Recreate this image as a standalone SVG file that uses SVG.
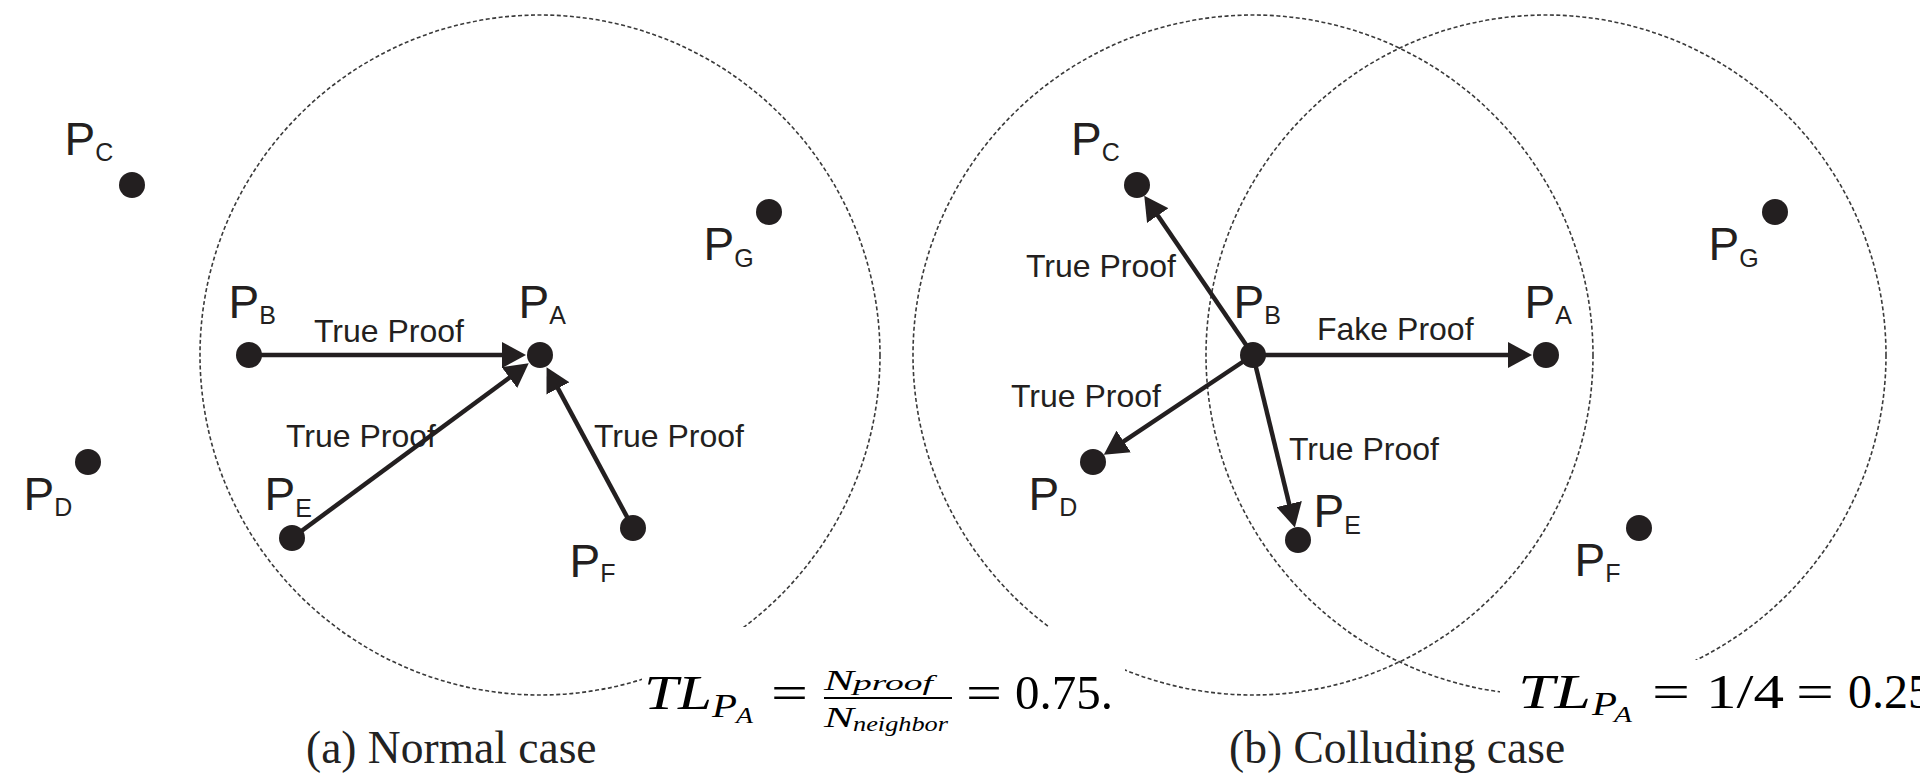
<svg xmlns="http://www.w3.org/2000/svg" width="1920" height="774" viewBox="0 0 1920 774">
<style>
.bg{fill:#fff}
.dot{fill:#231f20}
.lbl{font-family:"Liberation Sans",Arial,sans-serif;font-size:46px;fill:#231f20}
.sub{font-size:25px}
.elbl{font-family:"Liberation Sans",Arial,sans-serif;font-size:32px;fill:#231f20}
.edge{stroke:#231f20;stroke-width:4.5;fill:none;marker-end:url(#ah)}
.range{fill:none;stroke:#3a3a3a;stroke-width:1.6;stroke-dasharray:4 2.5}
.math{font-family:"Liberation Serif","Times New Roman",serif;font-size:48px;fill:#000}
.it{font-style:italic}
.cap{font-family:"Liberation Serif","Times New Roman",serif;font-size:45.5px;fill:#222}
</style>
<defs>
<marker id="ah" viewBox="0 0 24 26" refX="14" refY="13" markerWidth="24" markerHeight="26" markerUnits="userSpaceOnUse" orient="auto">
<path d="M0,0 L24,13 L0,26 Z" fill="#231f20"/>
</marker>
<mask id="cut" maskUnits="userSpaceOnUse" x="0" y="0" width="1920" height="774">
<rect width="1920" height="774" fill="#fff"/>
<rect x="642" y="627" width="483" height="147" fill="#000"/>
<rect x="1500" y="660" width="420" height="114" fill="#000"/>
</mask>
</defs>
<rect class="bg" width="1920" height="774"/>

<g id="ranges" mask="url(#cut)">
<circle class="range" cx="540" cy="355" r="340"/>
<circle class="range" cx="1253" cy="355" r="340"/>
<circle class="range" cx="1546" cy="355" r="340"/>
</g>

<g id="connectors">
<line class="edge" x1="249" y1="355" x2="516" y2="355"/>
<line class="edge" x1="292" y1="538" x2="520.7" y2="369.3"/>
<line class="edge" x1="633" y1="528" x2="551.3" y2="376.1"/>
<line class="edge" x1="1253" y1="355" x2="1149.9" y2="204"/>
<line class="edge" x1="1253" y1="355" x2="1522" y2="355"/>
<line class="edge" x1="1253" y1="355" x2="1112.1" y2="449.2"/>
<line class="edge" x1="1253" y1="355" x2="1292.5" y2="517.7"/>
<text class="elbl" x="314" y="342">True Proof</text>
<text class="elbl" x="286" y="447">True Proof</text>
<text class="elbl" x="594" y="447">True Proof</text>
<text class="elbl" x="1026" y="277">True Proof</text>
<text class="elbl" x="1317" y="340">Fake Proof</text>
<text class="elbl" x="1011" y="407">True Proof</text>
<text class="elbl" x="1289" y="460">True Proof</text>
</g>

<g id="a-PC"><circle class="dot" cx="132" cy="185" r="13"/><text class="lbl" x="64.5" y="155">P<tspan class="sub" dy="6">C</tspan></text></g>
<g id="a-PD"><circle class="dot" cx="88" cy="462" r="13"/><text class="lbl" x="23.5" y="510">P<tspan class="sub" dy="6">D</tspan></text></g>
<g id="a-PB"><circle class="dot" cx="249" cy="355" r="13"/><text class="lbl" x="228.5" y="318">P<tspan class="sub" dy="6">B</tspan></text></g>
<g id="a-PE"><circle class="dot" cx="292" cy="538" r="13"/><text class="lbl" x="264.5" y="510">P<tspan class="sub" dy="7">E</tspan></text></g>
<g id="a-PA"><circle class="dot" cx="540" cy="355" r="13"/><text class="lbl" x="518.5" y="318">P<tspan class="sub" dy="6">A</tspan></text></g>
<g id="a-PG"><circle class="dot" cx="769" cy="212" r="13"/><text class="lbl" x="703.5" y="260">P<tspan class="sub" dy="7">G</tspan></text></g>
<g id="a-PF"><circle class="dot" cx="633" cy="528" r="13"/><text class="lbl" x="569.5" y="577">P<tspan class="sub" dy="5">F</tspan></text></g>

<g id="b-PC"><circle class="dot" cx="1137" cy="185" r="13"/><text class="lbl" x="1071" y="155">P<tspan class="sub" dy="6">C</tspan></text></g>
<g id="b-PB"><circle class="dot" cx="1253" cy="355" r="13"/><text class="lbl" x="1233.5" y="318">P<tspan class="sub" dy="6">B</tspan></text></g>
<g id="b-PA"><circle class="dot" cx="1546" cy="355" r="13"/><text class="lbl" x="1524.5" y="318">P<tspan class="sub" dy="6">A</tspan></text></g>
<g id="b-PG"><circle class="dot" cx="1775" cy="212" r="13"/><text class="lbl" x="1708.5" y="260">P<tspan class="sub" dy="7">G</tspan></text></g>
<g id="b-PD"><circle class="dot" cx="1093" cy="462" r="13"/><text class="lbl" x="1028.5" y="510">P<tspan class="sub" dy="6">D</tspan></text></g>
<g id="b-PE"><circle class="dot" cx="1298" cy="540" r="13"/><text class="lbl" x="1313.5" y="527">P<tspan class="sub" dy="7">E</tspan></text></g>
<g id="b-PF"><circle class="dot" cx="1639" cy="528" r="13"/><text class="lbl" x="1574.5" y="576">P<tspan class="sub" dy="6">F</tspan></text></g>

<g id="formula-a">
<text class="math it" x="644" y="709" textLength="68" lengthAdjust="spacingAndGlyphs">TL</text>
<text class="math it" x="712" y="717" style="font-size:33px" textLength="25" lengthAdjust="spacingAndGlyphs">P</text>
<text class="math it" x="736" y="723" style="font-size:24px" textLength="17" lengthAdjust="spacingAndGlyphs">A</text>
<text class="math" x="771" y="709" textLength="37" lengthAdjust="spacingAndGlyphs">=</text>
<text class="math it" x="824" y="690" style="font-size:30px" textLength="30" lengthAdjust="spacingAndGlyphs">N</text>
<text class="math it" x="853" y="690" style="font-size:22px" textLength="80" lengthAdjust="spacingAndGlyphs">proof</text>
<line x1="824" y1="698" x2="952" y2="698" stroke="#000" stroke-width="2"/>
<text class="math it" x="824" y="727" style="font-size:30px" textLength="30" lengthAdjust="spacingAndGlyphs">N</text>
<text class="math it" x="853" y="731" style="font-size:22px" textLength="95" lengthAdjust="spacingAndGlyphs">neighbor</text>
<text class="math" x="966" y="709" textLength="36" lengthAdjust="spacingAndGlyphs">=</text>
<text class="math" x="1015" y="709" textLength="98" lengthAdjust="spacingAndGlyphs">0.75.</text>
</g>

<g id="formula-b">
<text class="math it" x="1518" y="708" textLength="73" lengthAdjust="spacingAndGlyphs">TL</text>
<text class="math it" x="1592" y="715" style="font-size:33px" textLength="25" lengthAdjust="spacingAndGlyphs">P</text>
<text class="math it" x="1614" y="722" style="font-size:24px" textLength="18" lengthAdjust="spacingAndGlyphs">A</text>
<text class="math" x="1652" y="708" textLength="38" lengthAdjust="spacingAndGlyphs">=</text>
<text class="math" x="1706" y="708" textLength="78" lengthAdjust="spacingAndGlyphs">1/4</text>
<text class="math" x="1796" y="708" textLength="38" lengthAdjust="spacingAndGlyphs">=</text>
<text class="math" x="1848" y="708">0.25</text>
</g>

<g id="captions">
<text class="cap" x="306" y="763">(a) Normal case</text>
<text class="cap" x="1229" y="763">(b) Colluding case</text>
</g>
</svg>
